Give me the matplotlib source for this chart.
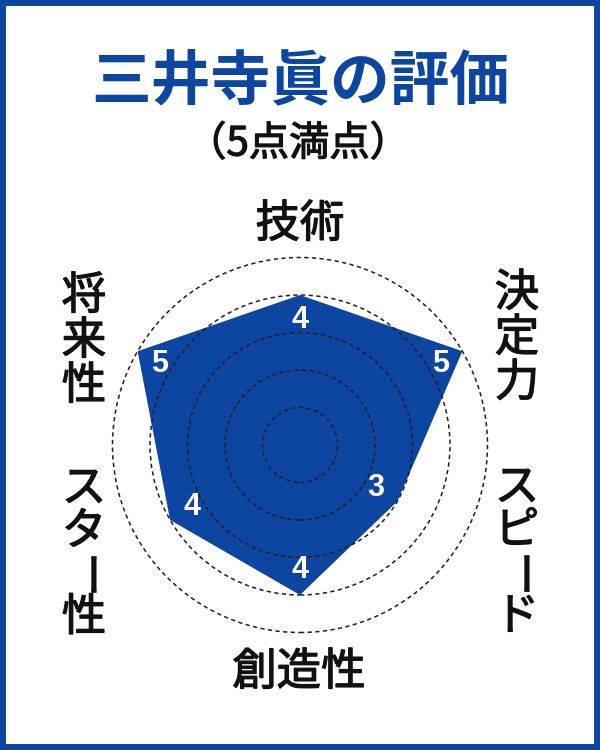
import numpy as np
import matplotlib
matplotlib.use('Agg')
import matplotlib.pyplot as plt
import matplotlib.patheffects as pe
from matplotlib.patches import Circle, Rectangle, Polygon

plt.rcParams['font.family'] = ['Noto Sans CJK JP', 'DejaVu Sans']

# data
title = '三井寺眞の評価'
subtitle = '（5点満点）'
categories = ['技術', '決定力', 'スピード', '創造性', 'スター性', '将来性']
scores = [4, 5, 3, 4, 4, 5]
rings = [1, 2, 3, 4, 5]

blue = '#0c46a0'
ink = '#111111'
W, H = 600, 750
# thicken the regular weight a little (medium-like strokes)
heavier = [pe.withStroke(linewidth=0.9, foreground=ink)]


def fx(x):
    return x / W


def fy(y):
    return 1 - y / H


fig = plt.figure(figsize=(6, 7.5), dpi=100)
fig.patch.set_facecolor('white')

# outer blue frame
fig.patches.append(Rectangle((0, 0), 1, 1, transform=fig.transFigure,
                             fill=False, ec=blue, lw=8.6, zorder=10))

# radar area (centre at 300,445 px, 37.5 px per point)
ax = fig.add_axes([fx(100), fy(645), 400 / W, 400 / H])
lim = 200 / 37.5
ax.set_xlim(-lim, lim)
ax.set_ylim(-lim, lim)
ax.set_aspect('equal')
ax.axis('off')

angles = np.arange(len(categories)) * 2 * np.pi / len(categories)
vals = np.array(scores, dtype=float)
xs = vals * np.sin(angles)
ys = vals * np.cos(angles)
ax.add_patch(Polygon(np.column_stack([xs, ys]), closed=True,
                     fc=blue, ec='none', zorder=1))

for r in rings:
    ax.add_patch(Circle((0, 0), r, fill=False, ec='#1e1e28', lw=1.1,
                        ls=(0, (2.8, 2.2)), zorder=2))

# value labels just inside each vertex
for a, v in zip(angles, scores):
    rr = v - 0.68
    ax.text(rr * np.sin(a), rr * np.cos(a), str(v), color='white',
            fontsize=22, fontweight='bold', family=['Liberation Sans'],
            ha='center', va='center', zorder=3)

# titles
fig.text(fx(300), fy(82), title, color=blue, fontsize=43, fontweight='bold',
         ha='center', va='center')
fig.text(fx(298), fy(144), subtitle, color=ink, fontsize=29,
         ha='center', va='center', path_effects=heavier)

# axis labels
lab_size = 32


def vtext(s, xc, yc, pitch=45):
    n = len(s)
    for i, ch in enumerate(s):
        y = yc + (i - (n - 1) / 2) * pitch
        if ch == 'ー':
            # long vowel mark turned upright for vertical writing
            fig.text(fx(xc + 14), fy(y), ch, fontsize=lab_size, color=ink,
                     ha='center', va='center', rotation=90,
                     path_effects=heavier)
        else:
            fig.text(fx(xc), fy(y), ch, fontsize=lab_size, color=ink,
                     ha='center', va='center', path_effects=heavier)


fig.text(fx(300), fy(224), categories[0], fontsize=lab_size, color=ink,
         ha='center', va='center', path_effects=heavier)
vtext(categories[1], 517, 338)
vtext(categories[2], 517, 552, pitch=43)
fig.text(fx(299), fy(672), categories[3], fontsize=lab_size, color=ink,
         ha='center', va='center', path_effects=heavier)
vtext(categories[4], 84, 553, pitch=43)
vtext(categories[5], 84, 341)

fig.savefig('out.png', dpi=100, facecolor='white')
